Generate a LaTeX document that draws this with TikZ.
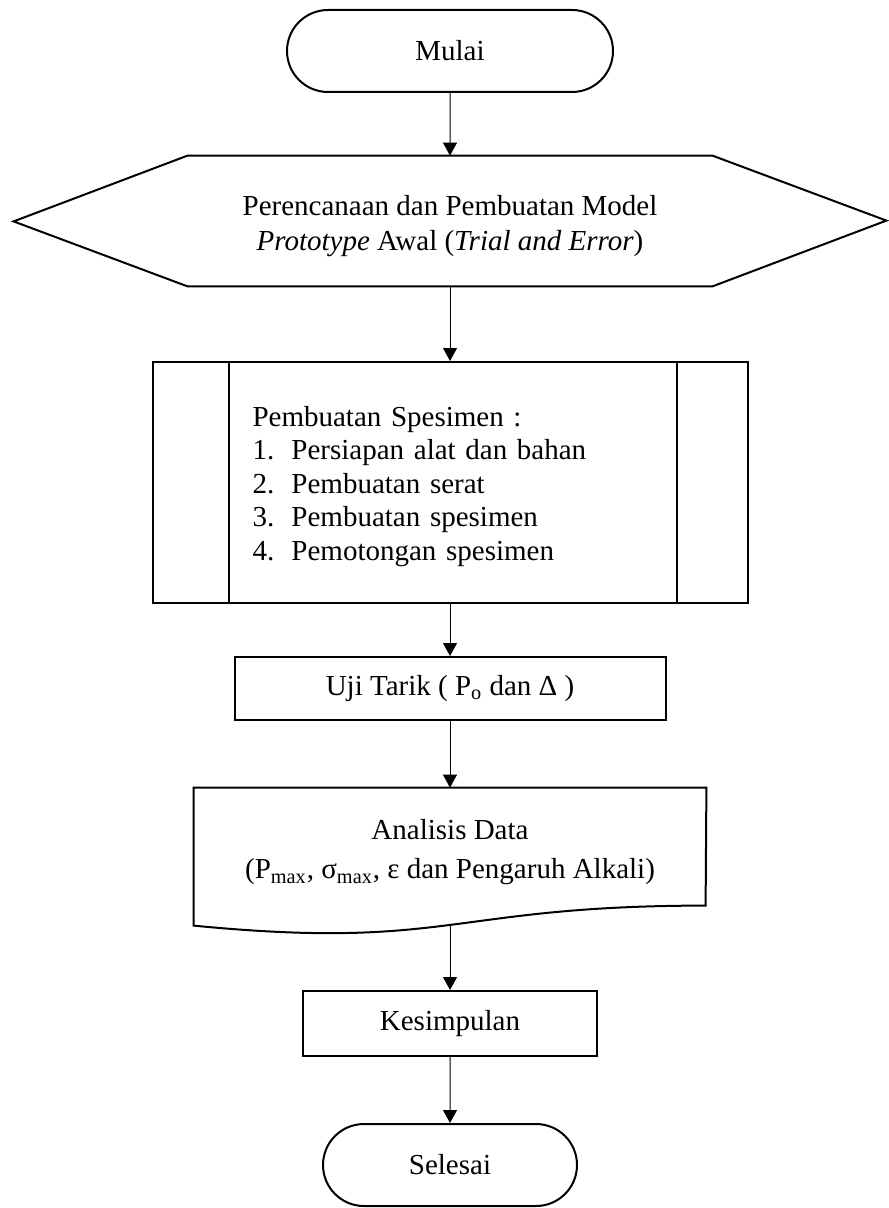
\documentclass[tikz,border=0pt]{standalone}
\usepackage{fontspec}
\setmainfont{Liberation Serif}
\usetikzlibrary{arrows.meta, shapes.misc}

\begin{document}
\begin{tikzpicture}[x=0.5pt, y=-0.5pt,
        font=\fontsize{14.5}{16.7}\selectfont,
        flowline/.style={line width=0.5pt, -{Triangle[length=6.5pt, width=7pt]}},
        terminal/.style={draw, line width=1pt, rounded rectangle, minimum width=#1, minimum height=41pt, inner sep=0pt},
        boxstep/.style={draw, line width=1pt, rectangle, minimum height=#1, inner sep=0pt},
        shapeline/.style={line width=1pt, line join=miter}]
        \useasboundingbox (0,0) rectangle (888,1208);

        % Start
        \node[terminal=163pt] (start) at (450,51) {Mulai};

        % Hexagon (preparation)
        \node[minimum width=262pt, minimum height=65pt, inner sep=0pt, align=center] (plan) at (450,221)
            {\rule{0pt}{15pt}Perencanaan dan Pembuatan Model\\[0.5pt]\textit{Prototype} Awal (\textit{Trial and Error})};
        \draw[shapeline] (plan.north west) -- (plan.north east) -- ++(174,65) -- (plan.south east)
            -- (plan.south west) -- ++(-174,-65) -- cycle;

        % Predefined process
        \node[draw, line width=1pt, minimum height=120.5pt, inner xsep=50pt, text width=197.5pt, align=left] (spec) at (450,482.5)
            {\rule{0pt}{14pt}Pembuatan Spesimen :\\
             \makebox[19.5pt][l]{1.}Persiapan alat dan bahan\\
             \makebox[19.5pt][l]{2.}Pembuatan serat\\
             \makebox[19.5pt][l]{3.}Pembuatan spesimen\\
             \makebox[19.5pt][l]{4.}Pemotongan spesimen};
        \draw[shapeline] ([xshift=38.5pt]spec.north west) -- ([xshift=38.5pt]spec.south west);
        \draw[shapeline] ([xshift=-36pt]spec.north east) -- ([xshift=-36pt]spec.south east);

        % Test
        \node[boxstep=31.5pt, minimum width=215.5pt] (test) at (450,688.5) {Uji Tarik ( P\textsubscript{o} dan Δ )};

        % Document shape
        \node[minimum width=256pt, minimum height=64.5pt, inner sep=0pt, align=center] (analysis) at (450,852.5)
            {Analisis Data\\[2.8pt](P\textsubscript{max}, σ\textsubscript{max}, ε dan Pengaruh Alkali)};
        \draw[shapeline] (analysis.north east) -- (analysis.north west) -- ++(0,138)
            .. controls +(256,25) and +(-256,0) .. ++(512,-20) -- cycle;
        \coordinate (anaout) at ([yshift=-4.2pt]analysis.south);

        % Conclusion and end
        \node[boxstep=32.5pt, minimum width=147pt] (concl) at (450,1023.5) {Kesimpulan};
        \node[terminal=127pt] (stop) at (450,1165) {Selesai};

        % Flow
        \draw[flowline] (start) -- (plan);
        \draw[flowline] (plan) -- (spec);
        \draw[flowline] (spec) -- (test);
        \draw[flowline] (test) -- (analysis);
        \draw[flowline] (anaout) -- (concl);
        \draw[flowline] (concl) -- (stop);
    \end{tikzpicture}
\end{document}
